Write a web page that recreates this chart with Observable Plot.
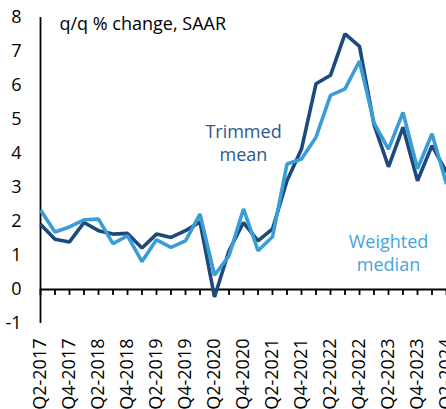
<!DOCTYPE html>
<html>
<head>
<meta charset="utf-8">
<script src="https://cdn.jsdelivr.net/npm/d3@7"></script>
<script src="https://cdn.jsdelivr.net/npm/@observablehq/plot@0.6"></script>
<style>
  html, body { margin: 0; padding: 0; background: #fff; overflow: hidden; }
</style>
</head>
<body>
<div id="chart"></div>
<script>
const quarters = ["Q2-2017","Q3-2017","Q4-2017","Q1-2018","Q2-2018","Q3-2018","Q4-2018","Q1-2019","Q2-2019","Q3-2019","Q4-2019","Q1-2020","Q2-2020","Q3-2020","Q4-2020","Q1-2021","Q2-2021","Q3-2021","Q4-2021","Q1-2022","Q2-2022","Q3-2022","Q4-2022","Q1-2023","Q2-2023","Q3-2023","Q4-2023","Q1-2024","Q2-2024"];
const trimmedMean = [1.92,1.48,1.40,1.97,1.73,1.63,1.65,1.22,1.63,1.53,1.73,1.99,-0.22,1.14,1.97,1.43,1.78,3.20,4.13,6.05,6.30,7.52,7.15,4.85,3.61,4.77,3.20,4.23,3.45];
const weightedMedian = [2.34,1.69,1.84,2.05,2.07,1.35,1.58,0.82,1.46,1.24,1.43,2.22,0.42,0.99,2.37,1.14,1.55,3.69,3.84,4.48,5.71,5.90,6.72,4.90,4.13,5.21,3.55,4.58,3.10];
const xTickLabels = ["Q2-2017","Q4-2017","Q2-2018","Q4-2018","Q2-2019","Q4-2019","Q2-2020","Q4-2020","Q2-2021","Q4-2021","Q2-2022","Q4-2022","Q2-2023","Q4-2023","Q2-2024"];
const yTicks = [-1,0,1,2,3,4,5,6,7,8];
const title = "q/q % change, SAAR";
const seriesLabels = [
  {text: "Trimmed\nmean", q: "Q4-2020", v: 4.34, color: "#2b5a90"},
  {text: "Weighted\nmedian", q: "Q2-2023", v: 1.11, color: "#46a4da"}
];

const darkColor = "#1d4a7e";
const lightColor = "#3b9dd5";

const tm = quarters.map((q, i) => ({q, v: trimmedMean[i]}));
const wm = quarters.map((q, i) => ({q, v: weightedMedian[i]}));

const chart = Plot.plot({
  width: 446,
  height: 409,
  marginLeft: 40,
  marginRight: 0,
  marginTop: 17,
  marginBottom: 86,
  style: {fontFamily: "'Open Sans', sans-serif", fontSize: "18px", color: "#000", background: "#fff", overflow: "visible"},
  x: {type: "point", domain: quarters, padding: 0, round: false, axis: null},
  y: {domain: [-1, 8], axis: null},
  marks: [
    Plot.axisX({anchor: "bottom", ticks: xTickLabels, tickSize: 0, tickPadding: 15, tickRotate: -90, fontSize: 18, label: null, fill: "#000"}),
    Plot.axisY({ticks: yTicks, tickSize: 0, tickPadding: 19, fontSize: 18, label: null, fill: "#000", tickFormat: d => String(d)}),
    // y-axis line and inward ticks
    Plot.ruleX([quarters[0]], {y1: -1, y2: 8, stroke: "#000", strokeWidth: 1.8}),
    Plot.ruleY(yTicks, {y: d => d, x1: quarters[0], x2: quarters[0], insetRight: -5, stroke: "#000", strokeWidth: 1.8}),
    // x-axis line at zero and downward ticks
    Plot.ruleY([0], {stroke: "#000", strokeWidth: 1.8}),
    Plot.ruleX(quarters, {x: d => d, y1: 0, y2: 0, insetBottom: -6, stroke: "#000", strokeWidth: 1.8}),
    Plot.line(tm, {x: "q", y: "v", stroke: darkColor, strokeWidth: 3.6, strokeLinejoin: "miter", strokeLinecap: "butt"}),
    Plot.line(wm, {x: "q", y: "v", stroke: lightColor, strokeWidth: 3.6, strokeLinejoin: "miter", strokeLinecap: "butt"}),
    Plot.text(seriesLabels, {x: "q", y: "v", text: "text", fill: "color", fontSize: 18, lineHeight: 1.28, lineAnchor: "middle", textAnchor: "middle"}),
    Plot.text([title], {frameAnchor: "top-left", dx: 19, lineAnchor: "top", fontSize: 18, fill: "#000", textAnchor: "start"})
  ]
});
document.getElementById("chart").appendChild(chart);
</script>
</body>
</html>
